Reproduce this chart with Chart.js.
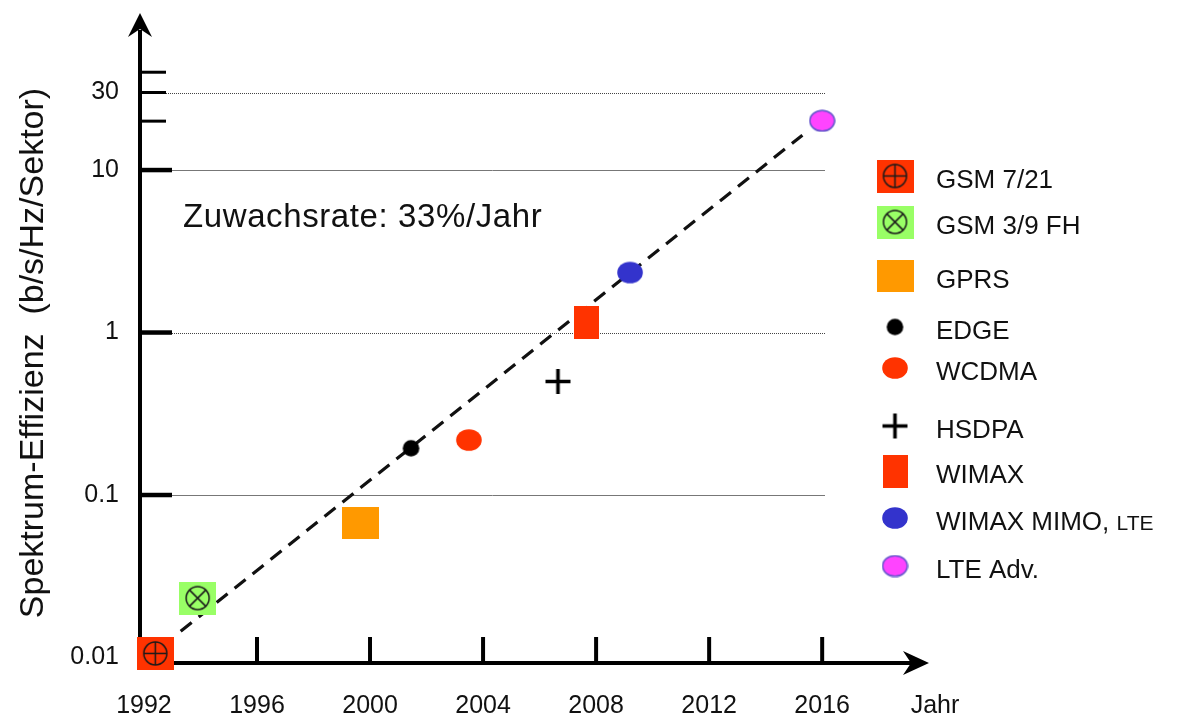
<!DOCTYPE html>
<html>
<head>
<meta charset="utf-8">
<script src="https://cdn.jsdelivr.net/npm/chart.js@4/dist/chart.umd.min.js"></script>
<style>
  html, body { margin: 0; padding: 0; background: #fff; }
  #wrap { width: 1180px; height: 717px; }
</style>
</head>
<body>
<div id="wrap"><canvas id="chart"></canvas></div>
<script>
// Spectral efficiency of mobile radio technologies by year of introduction
const technologies = ['GSM 7/21', 'GSM 3/9 FH', 'GPRS', 'EDGE', 'WCDMA', 'HSDPA', 'WIMAX', 'WIMAX MIMO, LTE', 'LTE Adv.'];
const introYears   = [1992.4, 1993.9, 1999.65, 2001.45, 2003.5, 2006.65, 2007.65, 2009.2, 2016.0];
const efficiency   = [0.0106, 0.0232, 0.067, 0.194, 0.218, 0.50, 1.16, 2.34, 20.1];

// Dashed growth trend
const trendYears  = [1993.3, 2015.3];
const trendValues = [0.0145, 16.4];
const growthLabel = 'Zuwachsrate: 33%/Jahr';

// Axis ticks
const yearTicks       = [1992, 1996, 2000, 2004, 2008, 2012, 2016];
const efficiencyTicks = [0.01, 0.1, 1, 10, 30];
const minorTicks      = [20, 40];

const FONT = '"Liberation Sans", Arial, Helvetica, sans-serif';
const INK = '#111111';

// ---- marker images -------------------------------------------------------
function markerCanvas(w, h, draw) {
  const c = document.createElement('canvas');
  c.width = w; c.height = h;
  draw(c.getContext('2d'), w, h);
  return c;
}
function circleCross(g, cx, cy, r, diagonal) {
  g.strokeStyle = '#1a1a1a';
  g.lineWidth = 1.5;
  g.beginPath(); g.arc(cx, cy, r, 0, Math.PI * 2); g.stroke();
  g.beginPath();
  if (diagonal) {
    const d = r * Math.SQRT1_2;
    g.moveTo(cx - d, cy - d); g.lineTo(cx + d, cy + d);
    g.moveTo(cx + d, cy - d); g.lineTo(cx - d, cy + d);
  } else {
    g.moveTo(cx - r, cy); g.lineTo(cx + r, cy);
    g.moveTo(cx, cy - r); g.lineTo(cx, cy + r);
  }
  g.stroke();
}
function ellipse(fill, w, h, stroke) {
  return markerCanvas(w, h, (g) => {
    g.beginPath();
    g.ellipse(w / 2, h / 2, w / 2 - 1.2, h / 2 - 1.2, 0, 0, Math.PI * 2);
    g.fillStyle = fill; g.fill();
    if (stroke) { g.strokeStyle = stroke; g.lineWidth = 1.6; g.stroke(); }
  });
}
const RED = '#ff3300';
const markers = [
  markerCanvas(37, 33, (g, w, h) => { g.fillStyle = RED; g.fillRect(0, 0, w, h); circleCross(g, w / 2, h / 2, 11.5, false); }),
  markerCanvas(37, 33, (g, w, h) => { g.fillStyle = '#99ff66'; g.fillRect(0, 0, w, h); circleCross(g, w / 2, h / 2, 11.5, true); }),
  markerCanvas(37, 32, (g, w, h) => { g.fillStyle = '#ff9900'; g.fillRect(0, 0, w, h); }),
  ellipse('#000000', 19, 19),
  ellipse(RED, 28, 24),
  markerCanvas(27, 27, (g, w, h) => {
    g.strokeStyle = '#000'; g.lineWidth = 3.6;
    g.beginPath(); g.moveTo(1, h / 2); g.lineTo(w - 1, h / 2);
    g.moveTo(w / 2, 1); g.lineTo(w / 2, h - 1); g.stroke();
  }),
  markerCanvas(25, 33, (g, w, h) => { g.fillStyle = RED; g.fillRect(0, 0, w, h); }),
  ellipse('#3333cc', 28, 24),
  ellipse('#ff44ff', 27, 23, '#6655cc'),
];

// ---- datasets ------------------------------------------------------------
const datasets = technologies.map((name, i) => ({
  type: 'scatter',
  label: name,
  data: [{ x: introYears[i], y: efficiency[i] }],
  pointStyle: markers[i],
  pointRadius: 12,
  pointHoverRadius: 12,
  clip: false,
  order: 0,
}));
datasets.push({
  type: 'line',
  label: 'trend',
  data: trendYears.map((x, i) => ({ x, y: trendValues[i] })),
  borderColor: '#111',
  borderWidth: 3.2,
  borderDash: [14, 9],
  pointRadius: 0,
  fill: false,
  order: 5,
});

// ---- decorations: grid, arrowed axes, legend, annotations -----------------
const gridStyles = { 30: 'dotted', 10: 'solid', 1: 'dotted', 0.1: 'solid' };
const legendLayout = { markerX: 895, textX: 936, rows: [176, 222, 276, 327, 368, 426, 471, 518, 566] };

const decor = {
  id: 'decor',
  beforeDatasetsDraw(chart) {
    const { ctx, chartArea: a, scales: { x, y } } = chart;
    const axisX = a.left, axisY = a.bottom;
    ctx.save();

    // horizontal reference lines
    Object.keys(gridStyles).forEach((k) => {
      const py = Math.round(y.getPixelForValue(Number(k))) + 0.5;
      ctx.beginPath();
      if (gridStyles[k] === 'dotted') { ctx.setLineDash([1, 1]); ctx.strokeStyle = '#444'; }
      else { ctx.setLineDash([]); ctx.strokeStyle = '#777'; }
      ctx.lineWidth = 1;
      ctx.moveTo(axisX + 20, py); ctx.lineTo(a.right, py);
      ctx.stroke();
    });
    ctx.setLineDash([]);

    ctx.strokeStyle = '#000';
    ctx.fillStyle = '#000';

    // y axis with arrow
    ctx.lineWidth = 4;
    ctx.beginPath(); ctx.moveTo(axisX, axisY + 2); ctx.lineTo(axisX, 30); ctx.stroke();
    ctx.beginPath();
    ctx.moveTo(axisX, 13); ctx.lineTo(axisX - 12, 37); ctx.lineTo(axisX, 29); ctx.lineTo(axisX + 12, 37);
    ctx.closePath(); ctx.fill();

    // x axis with arrow
    ctx.beginPath(); ctx.moveTo(axisX - 2, axisY); ctx.lineTo(915, axisY); ctx.stroke();
    ctx.beginPath();
    ctx.moveTo(929, axisY); ctx.lineTo(903, axisY - 12); ctx.lineTo(911, axisY); ctx.lineTo(903, axisY + 12);
    ctx.closePath(); ctx.fill();

    // x tick marks (upwards)
    ctx.lineWidth = 4;
    yearTicks.slice(1).forEach((v) => {
      const px = x.getPixelForValue(v);
      ctx.beginPath(); ctx.moveTo(px, axisY); ctx.lineTo(px, axisY - 26); ctx.stroke();
    });

    // y tick marks (to the right)
    [0.1, 1, 10].forEach((v) => {
      const py = y.getPixelForValue(v);
      ctx.lineWidth = 4.5;
      ctx.beginPath(); ctx.moveTo(axisX, py); ctx.lineTo(axisX + 32, py); ctx.stroke();
    });
    [...minorTicks, 30].forEach((v) => {
      const py = y.getPixelForValue(v);
      ctx.lineWidth = 3;
      ctx.beginPath(); ctx.moveTo(axisX, py); ctx.lineTo(axisX + 26, py); ctx.stroke();
    });
    ctx.restore();
  },
  afterDatasetsDraw(chart) {
    const { ctx } = chart;
    ctx.save();
    ctx.fillStyle = INK;

    // y axis title
    ctx.save();
    ctx.translate(43, 353);
    ctx.rotate(-Math.PI / 2);
    ctx.font = `34px ${FONT}`;
    ctx.textAlign = 'center';
    ctx.textBaseline = 'alphabetic';
    ctx.fillText('Spektrum-Effizienz  (b/s/Hz/Sektor)', 0, 0);
    ctx.restore();

    // growth annotation
    ctx.font = `33px ${FONT}`;
    if ('letterSpacing' in ctx) ctx.letterSpacing = '0.6px';
    ctx.textAlign = 'left';
    ctx.textBaseline = 'alphabetic';
    ctx.fillText(growthLabel, 183, 227);
    if ('letterSpacing' in ctx) ctx.letterSpacing = '0px';

    // x axis unit
    ctx.font = `25px ${FONT}`;
    ctx.textAlign = 'center';
    ctx.fillText('Jahr', 935, 713);

    // legend
    chart.data.datasets.forEach((ds, i) => {
      if (ds.type !== 'scatter') return;
      const rowY = legendLayout.rows[i];
      const img = ds.pointStyle;
      ctx.drawImage(img, legendLayout.markerX - img.width / 2, rowY - img.height / 2);
      ctx.textAlign = 'left';
      ctx.fillStyle = INK;
      const parts = ds.label.split(', ');
      ctx.font = `26px ${FONT}`;
      let tx = legendLayout.textX;
      ctx.fillText(parts[0], tx, rowY + 12);
      if (parts.length > 1) {
        tx += ctx.measureText(parts[0]).width;
        ctx.fillText(',', tx, rowY + 12);
        tx += ctx.measureText(', ').width;
        ctx.font = `21px ${FONT}`;
        ctx.fillText(parts[1], tx, rowY + 12);
      }
    });
    ctx.restore();
  }
};

Chart.defaults.font.family = FONT;
Chart.defaults.color = INK;

new Chart(document.getElementById('chart'), {
  data: { datasets },
  options: {
    responsive: true,
    maintainAspectRatio: false,
    animation: false,
    events: [],
    layout: { padding: { top: 15, right: 355, bottom: 0, left: 0 } },
    plugins: { legend: { display: false }, tooltip: { enabled: false } },
    scales: {
      x: {
        type: 'linear',
        min: 1991.86,
        max: 2016.1,
        afterFit(s) { s.height = 54; s.paddingLeft = 0; s.paddingRight = 0; },
        afterBuildTicks(s) { s.ticks = yearTicks.map((v) => ({ value: v })); },
        ticks: { padding: 20, color: INK, font: { size: 25 }, maxRotation: 0, autoSkip: false, callback: (v) => String(v) },
        grid: { display: false },
        border: { display: false },
      },
      y: {
        type: 'logarithmic',
        min: 0.00925,
        max: 90,
        afterFit(s) { s.width = 140; s.paddingTop = 0; s.paddingBottom = 0; },
        afterBuildTicks(s) { s.ticks = efficiencyTicks.map((v) => ({ value: v })); },
        ticks: { padding: 13, color: INK, font: { size: 25 }, autoSkip: false, callback: (v) => String(v) },
        grid: { display: false },
        border: { display: false },
      },
    },
  },
  plugins: [decor],
});
</script>
</body>
</html>
